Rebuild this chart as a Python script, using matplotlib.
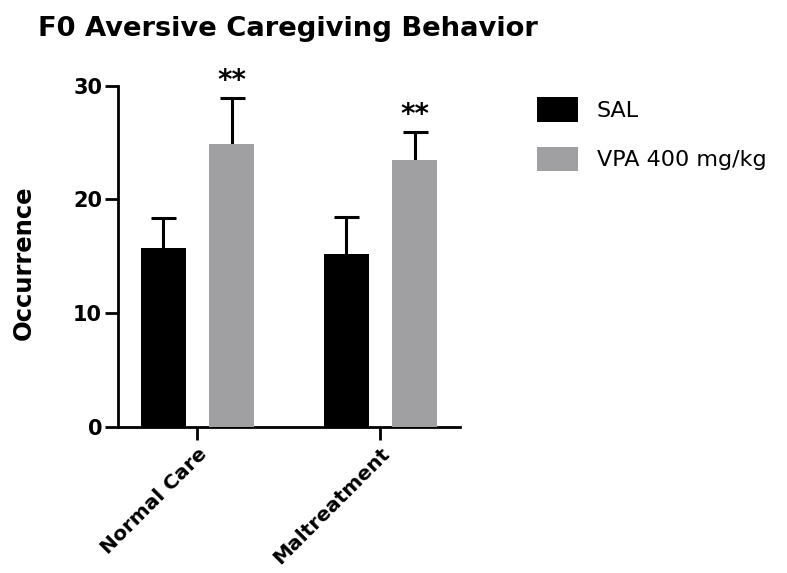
import numpy as np
import matplotlib
matplotlib.use('Agg')
import matplotlib.pyplot as plt

plt.rcParams['font.family'] = ['DejaVu Sans']

groups = ["Normal Care", "Maltreatment"]
sal_mean = [15.75, 15.25]
sal_err = [2.65, 3.2]
vpa_mean = [24.9, 23.5]
vpa_err = [4.05, 2.45]
stars = ["**", "**"]

black = "#000000"
grey = "#a0a0a3"

fig = plt.figure(figsize=(7.87, 5.73), dpi=100)
ax = fig.add_axes([0.150, 0.2548, 0.434, 0.5956])

x = np.arange(len(groups))
w = 0.246
off = 0.187

# bars sit above the error bars so only the upper half shows
ax.bar(x - off, sal_mean, w, color=black, label="SAL", zorder=3)
ax.bar(x + off, vpa_mean, w, color=grey, label="VPA 400 mg/kg", zorder=3)
ekw = dict(fmt='none', ecolor='black', elinewidth=2.2, capsize=9, capthick=2.2, zorder=1)
ax.errorbar(x - off, sal_mean, yerr=sal_err, **ekw)
ax.errorbar(x + off, vpa_mean, yerr=vpa_err, **ekw)

for xi, m, e, s in zip(x + off, vpa_mean, vpa_err, stars):
    ax.annotate(s, (xi, m + e), xytext=(0, 2), textcoords='offset points',
                ha='center', va='bottom', fontsize=20, fontweight='bold')

ax.set_xlim(-0.434, 1.433)
ax.set_ylim(0, 30)
ax.set_yticks([0, 10, 20, 30])
ax.set_xticks(x)
ax.set_xticklabels(groups, rotation=45, ha='right', rotation_mode='anchor',
                   fontsize=14.5, fontweight='bold')
for lab in ax.get_yticklabels():
    lab.set_fontsize(15)
    lab.set_fontweight('bold')
ax.tick_params(axis='both', direction='out', length=9.5, width=2, pad=2)
ax.tick_params(axis='x', pad=3)

for side in ['top', 'right']:
    ax.spines[side].set_visible(False)
for side in ['left', 'bottom']:
    ax.spines[side].set_linewidth(2)
ax.spines['left'].set_bounds(0, 30)

fig.text(0.0305, 0.542, "Occurrence", rotation=90, ha='center', va='center',
         fontsize=17.5, fontweight='bold')
fig.text(0.048, 0.949, "F0 Aversive Caregiving Behavior", ha='left', va='center',
         fontsize=19.7, fontweight='bold')

fig.legend(loc='upper left', bbox_to_anchor=(0.682, 0.831), frameon=False,
           fontsize=16, handlelength=1.85, handleheight=1.34, handletextpad=0.85,
           labelspacing=1.12, borderpad=0, borderaxespad=0)

fig.savefig("out.png", dpi=100)
